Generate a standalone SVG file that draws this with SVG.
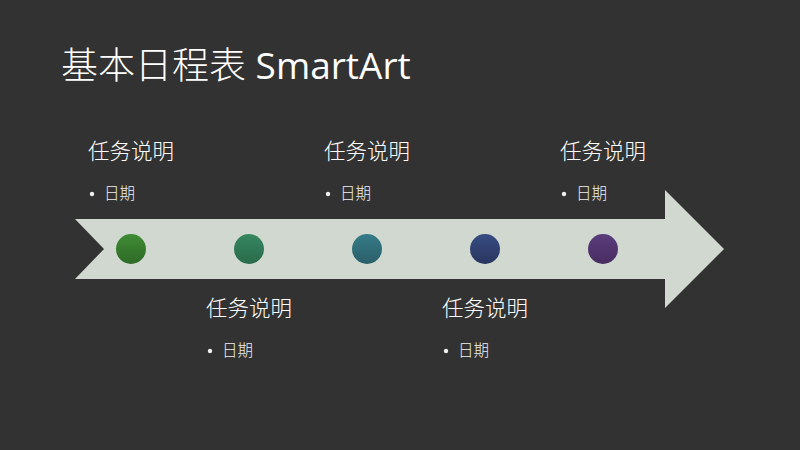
<svg xmlns="http://www.w3.org/2000/svg" width="800" height="450" viewBox="0 0 800 450">
<defs>
<linearGradient id="g1" x1="0" y1="0" x2="0" y2="1"><stop offset="0" stop-color="#3f8b34"/><stop offset="1" stop-color="#2e6a27"/></linearGradient>
<linearGradient id="g2" x1="0" y1="0" x2="0" y2="1"><stop offset="0" stop-color="#358760"/><stop offset="1" stop-color="#2a6a4a"/></linearGradient>
<linearGradient id="g3" x1="0" y1="0" x2="0" y2="1"><stop offset="0" stop-color="#357c88"/><stop offset="1" stop-color="#2a5e69"/></linearGradient>
<linearGradient id="g4" x1="0" y1="0" x2="0" y2="1"><stop offset="0" stop-color="#364c82"/><stop offset="1" stop-color="#2a355f"/></linearGradient>
<linearGradient id="g5" x1="0" y1="0" x2="0" y2="1"><stop offset="0" stop-color="#5a3c7c"/><stop offset="1" stop-color="#482d60"/></linearGradient>
</defs>
<style>
text{font-family:"Noto Sans CJK SC","Noto Sans",sans-serif;fill:#ffffff}
.title{font-size:37px;font-weight:300}
.lat{font-family:"Open Sans","Noto Sans",sans-serif;font-weight:400}
.lbl{font-size:21.5px;font-weight:300}
.date{font-size:15.5px;fill:#f0f0f0;font-weight:300}
.bul{fill:#f0f0f0}
.dot{stroke:none}
</style>
<rect width="800" height="450" fill="#323232"/>
<text class="title" x="61" y="79">基本日程表<tspan class="lat"> SmartArt</tspan></text>
<g id="arrow">
<polygon points="75,219 665,219 665,190 724,249 665,308 665,279 75,279 104,249" fill="#d0d8d0"/>
</g>
<g id="connectors"></g>
<g id="m1"><circle class="dot" cx="131" cy="249" r="15" fill="url(#g1)"/></g>
<g id="m2"><circle class="dot" cx="249" cy="249" r="15" fill="url(#g2)"/></g>
<g id="m3"><circle class="dot" cx="367" cy="249" r="15" fill="url(#g3)"/></g>
<g id="m4"><circle class="dot" cx="485" cy="249" r="15" fill="url(#g4)"/></g>
<g id="m5"><circle class="dot" cx="603" cy="249" r="15" fill="url(#g5)"/></g>
<g id="t1"><text class="lbl" x="88" y="159">任务说明</text><circle class="bul" cx="92" cy="194" r="2.2"/><text class="date" x="104" y="199">日期</text></g>
<g id="t2"><text class="lbl" x="206" y="316">任务说明</text><circle class="bul" cx="210" cy="351" r="2.2"/><text class="date" x="222" y="356">日期</text></g>
<g id="t3"><text class="lbl" x="324" y="159">任务说明</text><circle class="bul" cx="328" cy="194" r="2.2"/><text class="date" x="340" y="199">日期</text></g>
<g id="t4"><text class="lbl" x="442" y="316">任务说明</text><circle class="bul" cx="446" cy="351" r="2.2"/><text class="date" x="458" y="356">日期</text></g>
<g id="t5"><text class="lbl" x="560" y="159">任务说明</text><circle class="bul" cx="564" cy="194" r="2.2"/><text class="date" x="576" y="199">日期</text></g>
</svg>
